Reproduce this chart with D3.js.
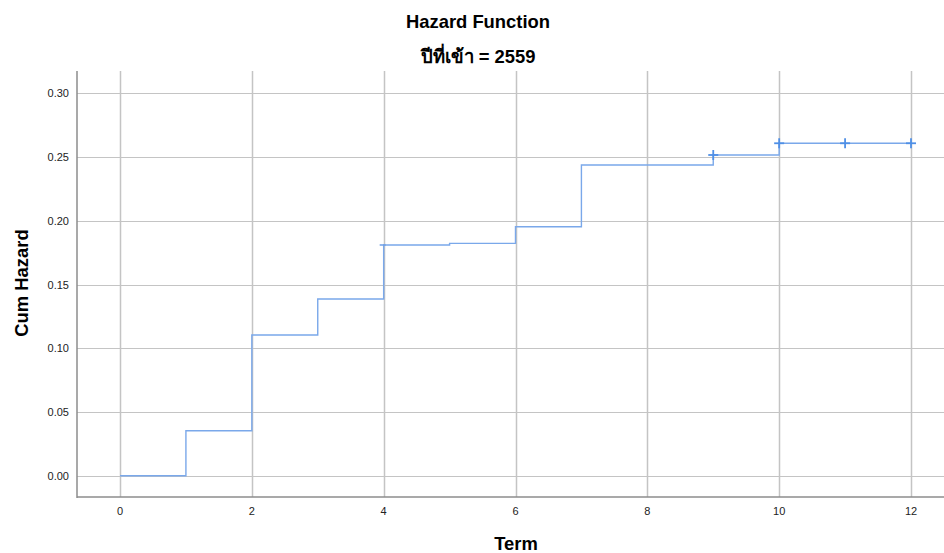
<!DOCTYPE html>
<html><head><meta charset="utf-8">
<script src="https://cdn.jsdelivr.net/npm/d3@7"></script>
<style>body{margin:0;background:#fff}svg{display:block}</style>
</head><body>
<svg id="c" width="944" height="553"></svg>
<script>
const stepTimes = [0, 1, 2, 3, 4, 5, 6, 7, 9, 10, 12];
const cumHazard = [0, 0.0353, 0.1104, 0.1386, 0.1810, 0.1823, 0.1953, 0.2437, 0.2516, 0.2608, 0.2608];
const censorTimes = [9, 10, 11, 12];
const censorValues = [0.2516, 0.2608, 0.2608, 0.2608];
const xTicks = [0, 2, 4, 6, 8, 10, 12];
const yTicks = [0.00, 0.05, 0.10, 0.15, 0.20, 0.25, 0.30];

const svg = d3.select("#c");
const L = 77, R = 944, T = 71, B = 497;
const x = d3.scaleLinear().domain([0, 12]).range([120, 911]);
const y = d3.scaleLinear().domain([0, 0.30]).range([475.7, 93.3]);
const FONT = "Liberation Sans, Arial, sans-serif";

// gridlines
svg.append("g").selectAll("line").data(xTicks).join("line")
  .attr("x1", d => Math.round(x(d)) + 0.5).attr("x2", d => Math.round(x(d)) + 0.5)
  .attr("y1", T).attr("y2", B).attr("stroke", "#c4c4c4").attr("stroke-width", 1.5);
svg.append("g").selectAll("line").data(yTicks).join("line")
  .attr("y1", d => Math.round(y(d)) + 0.5).attr("y2", d => Math.round(y(d)) + 0.5)
  .attr("x1", L).attr("x2", R).attr("stroke", "#c4c4c4").attr("stroke-width", 1.2);

// axes frame
svg.append("line").attr("x1", L).attr("x2", L).attr("y1", T).attr("y2", B + 1)
  .attr("stroke", "#8c8c8c").attr("stroke-width", 1.5);
svg.append("line").attr("x1", L).attr("x2", R).attr("y1", B).attr("y2", B)
  .attr("stroke", "#8c8c8c").attr("stroke-width", 1.5);

// tick labels
svg.append("g").selectAll("text").data(yTicks).join("text")
  .attr("x", 69).attr("y", d => y(d) + 4).attr("text-anchor", "end")
  .attr("font-family", FONT).attr("font-size", 11).attr("fill", "#222")
  .text(d => d3.format(".2f")(d));
svg.append("g").selectAll("text").data(xTicks).join("text")
  .attr("x", d => x(d)).attr("y", 515).attr("text-anchor", "middle")
  .attr("font-family", FONT).attr("font-size", 11).attr("fill", "#222")
  .text(d => d);

// step line
const line = d3.line().x(d => x(d[0])).y(d => y(d[1])).curve(d3.curveStepAfter);
svg.append("path").datum(stepTimes.map((t, i) => [t, cumHazard[i]]))
  .attr("d", line).attr("fill", "none").attr("stroke", "#7aa8ea").attr("stroke-width", 1.4);

// small censor tick at 4
svg.append("line").attr("x1", x(4) - 4).attr("x2", x(4) + 2).attr("y1", y(cumHazard[4])).attr("y2", y(cumHazard[4]))
  .attr("stroke", "#6f9fe6").attr("stroke-width", 1.5);

// censor marks
const cg = svg.append("g").selectAll("g").data(censorTimes.map((t, i) => [t, censorValues[i]])).join("g")
  .attr("transform", d => `translate(${x(d[0])},${y(d[1])})`);
cg.append("line").attr("x1", -5).attr("x2", 5).attr("stroke", "#4f8fe6").attr("stroke-width", 1.8);
cg.append("line").attr("y1", -5).attr("y2", 5).attr("stroke", "#4f8fe6").attr("stroke-width", 1.8);

// titles
svg.append("text").attr("x", 478).attr("y", 28).attr("text-anchor", "middle")
  .attr("font-family", FONT).attr("font-size", 18.4).attr("font-weight", "bold")
  .text("Hazard Function");
svg.append("text").attr("x", 478).attr("y", 63).attr("text-anchor", "middle")
  .attr("font-family", FONT).attr("font-size", 18.4).attr("font-weight", "bold")
  .text("ปีที่เข้า = 2559");
svg.append("text").attr("x", 516).attr("y", 550).attr("text-anchor", "middle")
  .attr("font-family", FONT).attr("font-size", 18.4).attr("font-weight", "bold")
  .text("Term");
svg.append("text").attr("transform", "translate(28,283) rotate(-90)").attr("text-anchor", "middle")
  .attr("font-family", FONT).attr("font-size", 18.4).attr("font-weight", "bold")
  .text("Cum Hazard");
</script>
</body></html>
